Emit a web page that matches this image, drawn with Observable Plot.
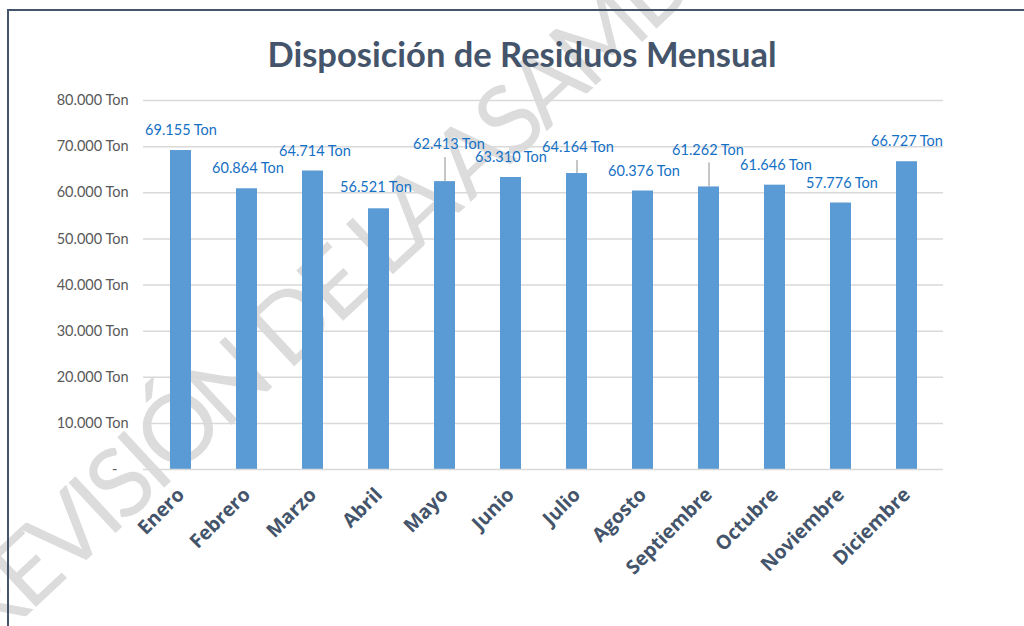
<!DOCTYPE html>
<html>
<head>
<meta charset="utf-8">
<script src="https://cdn.jsdelivr.net/npm/d3@7"></script>
<script src="https://cdn.jsdelivr.net/npm/@observablehq/plot@0.6"></script>
<style>
  html, body { margin: 0; padding: 0; background: #fff; }
  body { width: 1024px; height: 626px; overflow: hidden; position: relative; font-family: Lato, sans-serif; }
  #wm { position: absolute; left: 0; top: 0; }
  #frame { position: absolute; left: 7px; top: 9px; width: 1100px; height: 700px; border: 2px solid #44546a; box-sizing: border-box; }
  #title { position: absolute; top: 33px; left: 0; width: 1044px; text-align: center; font: bold 34.5px Lato, sans-serif; color: #44546a; }
  #chart { position: absolute; left: 0; top: 80px; }
</style>
</head>
<body>
<svg id="wm" width="1024" height="626">
  <text transform="translate(-10,650) rotate(-43)" font-family="Lato, 'Open Sans', sans-serif" font-weight="400" font-size="96" letter-spacing="-6" fill="#dcdcdc">REVISIÓN DE LA ASAMBLEA</text>
</svg>
<div id="frame"></div>
<div id="title">Disposición de Residuos Mensual</div>
<div id="chart"></div>
<script>
// ---- data ----
const months = ["Enero", "Febrero", "Marzo", "Abril", "Mayo", "Junio", "Julio", "Agosto", "Septiembre", "Octubre", "Noviembre", "Diciembre"];
const tons = [69155, 60864, 64714, 56521, 62413, 63310, 64164, 60376, 61262, 61646, 57776, 66727];
const yTicks = [0, 10000, 20000, 30000, 40000, 50000, 60000, 70000, 80000];
// label nudges (style, pixels) relative to each bar top
const labelDx = [0, 1, 2, -3, 4, 0, 1, 1, -1, 1, 1, 0];
const labelDy = [-20, -20, -20, -21, -37, -20, -26, -20, -37, -20, -20, -20];
const leaderMonths = ["Mayo", "Julio", "Septiembre"];

const data = months.map((m, i) => ({month: m, value: tons[i]}));

const W = 1024, H = 546, mTop = 20, mBottom = 157, mLeft = 143, mRight = 81;
const yMax = 80000;
const pxPerUnit = (H - mTop - mBottom) / yMax;

const fmtNum = v => d3.format(",")(v).replace(/,/g, ".");
const fmtTick = v => v === 0 ? "-\u00a0\u00a0\u00a0" : fmtNum(v) + " Ton";
const fmtLabel = v => fmtNum(v) + " Ton";

const labelMarks = data.map((d, i) => Plot.text([d], {
  x: "month", y: "value", text: dd => fmtLabel(dd.value),
  dx: labelDx[i], dy: labelDy[i],
  fill: "#1470c4", fontSize: 14.5, fontFamily: "Lato"
}));

const leaderData = data
  .map((d, i) => ({...d, top: d.value + (-labelDy[i] - 13) / pxPerUnit}))
  .filter(d => leaderMonths.includes(d.month));

const chart = Plot.plot({
  width: W, height: H,
  marginTop: mTop, marginBottom: mBottom, marginLeft: mLeft, marginRight: mRight,
  style: {background: "transparent", fontFamily: "Lato", overflow: "visible"},
  x: {domain: months, paddingInner: 0.685, paddingOuter: 0.3425},
  y: {domain: [0, yMax]},
  marks: [
    Plot.gridY(yTicks.filter(t => t > 0), {stroke: "#d9d9d9", strokeOpacity: 1, strokeWidth: 1.5}),
    Plot.barY(data, {x: "month", y: "value", fill: "#5b9bd5"}),
    Plot.ruleY([0], {stroke: "#d9d9d9", strokeWidth: 1.5}),
    Plot.ruleX(leaderData, {x: "month", y1: "value", y2: "top", stroke: "#8c8c8c", strokeWidth: 1}),
    ...labelMarks,
    Plot.axisY({ticks: yTicks, tickFormat: fmtTick, tickSize: 0, tickPadding: 15, fontSize: 14.5, fill: "#595959", fontFamily: "Lato", label: null}),
    Plot.axisX({tickRotate: -45, tickSize: 0, tickPadding: 22, fontSize: 19.5, fontWeight: "bold", fill: "#44546a", fontFamily: "Open Sans", label: null})
  ]
});
document.getElementById("chart").appendChild(chart);
</script>
</body>
</html>
